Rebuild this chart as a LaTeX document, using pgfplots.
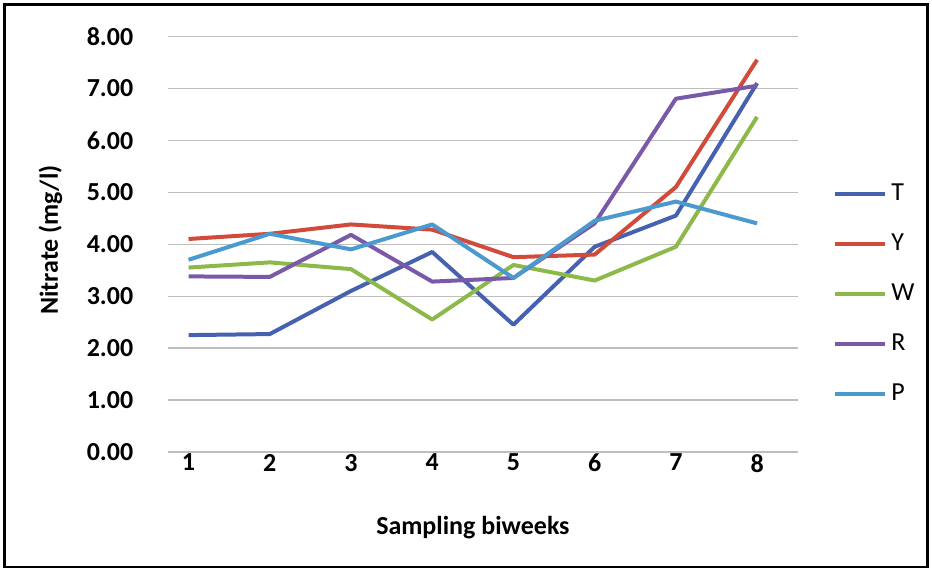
\documentclass[border=0pt]{standalone}
\usepackage{pgfplots}
\pgfplotsset{compat=1.18}
\usepackage{fontspec}
\setmainfont{Carlito}
\definecolor{cT}{HTML}{4661B0}
\definecolor{cY}{HTML}{D24B3A}
\definecolor{cW}{HTML}{8DB84A}
\definecolor{cR}{HTML}{7A5AA8}
\definecolor{cP}{HTML}{4A9ACF}
\definecolor{gridc}{HTML}{BEBEBE}
\begin{document}
\begin{tikzpicture}
\draw[white] (0,0) rectangle (466pt,285.5pt);
\draw[black, line width=1.2pt] (2pt,2pt) rectangle (464pt,283.5pt);
\begin{axis}[
  at={(84pt,59.5pt)}, anchor=south west,
  scale only axis, width=315pt, height=208pt,
  xmin=0.75, xmax=8.5, ymin=0, ymax=8,
  xtick={1,2,3,4,5,6,7,8},
  ytick={0,1,2,3,4,5,6,7,8},
  major tick length=0pt,
  axis line style={draw=none},
  ymajorgrids, grid style={gridc, line width=0.6pt},
  /pgf/number format/assume math mode=true,
  yticklabel={\pgfmathprintnumber[fixed,fixed zerofill,precision=2]{\tick}},
  ticklabel style={font=\fontsize{13}{15}\selectfont\bfseries},
  yticklabel style={anchor=east, xshift=-14pt},
  xticklabel style={anchor=north, yshift=2.5pt},
  xlabel={Sampling biweeks},
  ylabel={Nitrate (mg/l)},
  every axis x label/.style={at={(rel axis cs:0.484,0)}, yshift=-38pt, anchor=center, font=\fontsize{13}{15}\selectfont\bfseries},
  every axis y label/.style={at={(rel axis cs:0,0.51)}, xshift=-59pt, rotate=90, anchor=center, font=\fontsize{13}{15}\selectfont\bfseries},
  legend style={at={(rel axis cs:1.056,0.655)}, anchor=north west, draw=none, fill=none,
    font=\fontsize{13}{15}\selectfont, row sep=11.2pt, inner sep=0pt,
    legend cell align=left},
  legend image code/.code={\draw[#1] (0pt,0pt) -- (25pt,0pt);},
  every axis plot/.append style={line width=2pt, line join=round},
]
\addplot[cT] coordinates {(1,2.25) (2,2.27) (3,3.1) (4,3.85) (5,2.45) (6,3.95) (7,4.55) (8,7.1)};
\addlegendentry{T}
\addplot[cY] coordinates {(1,4.1) (2,4.2) (3,4.38) (4,4.28) (5,3.75) (6,3.8) (7,5.1) (8,7.55)};
\addlegendentry{Y}
\addplot[cW] coordinates {(1,3.55) (2,3.65) (3,3.52) (4,2.55) (5,3.6) (6,3.3) (7,3.95) (8,6.45)};
\addlegendentry{W}
\addplot[cR] coordinates {(1,3.38) (2,3.37) (3,4.18) (4,3.28) (5,3.35) (6,4.4) (7,6.8) (8,7.05)};
\addlegendentry{R}
\addplot[cP] coordinates {(1,3.7) (2,4.2) (3,3.9) (4,4.38) (5,3.35) (6,4.45) (7,4.82) (8,4.4)};
\addlegendentry{P}
\end{axis}
\end{tikzpicture}
\end{document}
